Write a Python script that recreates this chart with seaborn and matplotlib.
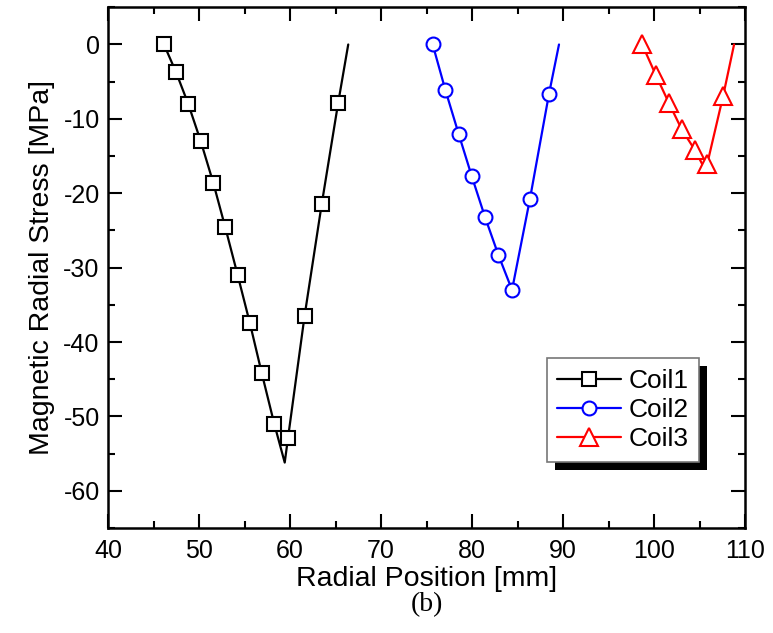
import numpy as np
import pandas as pd
import matplotlib
matplotlib.use("Agg")
import matplotlib.pyplot as plt
from matplotlib.patches import Rectangle
from matplotlib.ticker import MultipleLocator
import seaborn as sns

# ---- data ----
coil1_x = [46.15, 47.47, 48.82, 50.19, 51.57, 52.89, 54.25, 55.6, 56.9, 58.27, 59.42, 59.78, 61.6, 63.48, 65.3, 66.4]
coil1_y = [0.0, -3.7, -8.0, -13.0, -18.6, -24.6, -31.0, -37.5, -44.2, -51.0, -56.2, -52.9, -36.5, -21.5, -7.8, 0.0]
coil1_marks = [0, 1, 2, 3, 4, 5, 6, 7, 8, 9, 11, 12, 13, 14]

coil2_x = [75.68, 77.07, 78.54, 79.97, 81.43, 82.9, 84.4, 86.37, 88.46, 89.56]
coil2_y = [0.0, -6.1, -12.05, -17.7, -23.2, -28.3, -33.0, -20.75, -6.65, 0.0]
coil2_marks = [0, 1, 2, 3, 4, 5, 6, 7, 8]

coil3_x = [98.7, 100.18, 101.65, 103.04, 104.5, 105.71, 105.86, 107.6, 108.8]
coil3_y = [0.0, -4.05, -7.9, -11.4, -14.2, -17.05, -16.0, -6.9, 0.0]
coil3_marks = [0, 1, 2, 3, 4, 6, 7]

labels = ["Coil1", "Coil2", "Coil3"]
colors = ["black", "#0000ff", "#ff0000"]
markers = ["s", "o", "^"]
msizes = [9.5, 10, 13]

sns.set_theme(style="white")
plt.rcParams["font.family"] = ["Liberation Sans", "DejaVu Sans"]
plt.rcParams["axes.unicode_minus"] = False
plt.rcParams["text.color"] = "black"
plt.rcParams["axes.labelcolor"] = "black"
plt.rcParams["xtick.color"] = "black"
plt.rcParams["ytick.color"] = "black"

fig = plt.figure(figsize=(7.73, 6.33), dpi=100)
ax = fig.add_axes([108 / 773, 1 - 528 / 633, (745 - 108) / 773, (528 - 7.3) / 633])

series = [(coil1_x, coil1_y, coil1_marks), (coil2_x, coil2_y, coil2_marks), (coil3_x, coil3_y, coil3_marks)]
for (xs, ys, mk), lab, c, m, ms in zip(series, labels, colors, markers, msizes):
    df = pd.DataFrame({"x": xs, "y": ys})
    sns.lineplot(data=df, x="x", y="y", sort=False, estimator=None, ax=ax,
                 color=c, linewidth=1.6, marker=m, markersize=ms,
                 markerfacecolor="white", markeredgecolor=c, markeredgewidth=1.5,
                 markevery=mk, label=lab)

ax.set_xlim(40, 110)
ax.set_ylim(-65, 5)
ax.xaxis.set_major_locator(MultipleLocator(10))
ax.xaxis.set_minor_locator(MultipleLocator(5))
ax.yaxis.set_major_locator(MultipleLocator(10))
ax.yaxis.set_minor_locator(MultipleLocator(5))
ax.tick_params(which="both", direction="in", top=True, right=True, bottom=True, left=True,
               color="black", width=1.5)
ax.tick_params(which="major", length=10, labelsize=18, pad=8)
ax.tick_params(axis="y", which="major", pad=6)
ax.tick_params(which="minor", length=5)
for s in ax.spines.values():
    s.set_color("black")
    s.set_linewidth(1.8)

ax.set_xlabel("Radial Position [mm]", fontsize=20.5, labelpad=2, color="black")
ax.set_ylabel("Magnetic Radial Stress [MPa]", fontsize=20.5, labelpad=6, color="black")

leg = ax.legend(loc="lower right", bbox_to_anchor=(0.928, 0.127), fontsize=19,
                frameon=True, fancybox=False, shadow=False, handlelength=2.4,
                labelspacing=0.2, borderpad=0.4, handletextpad=0.3, borderaxespad=0)
leg.get_frame().set_edgecolor("#777777")
leg.get_frame().set_linewidth(1.2)
leg.get_frame().set_facecolor("white")
leg.get_frame().set_alpha(1)
leg.set_zorder(10)
for t in leg.get_texts():
    t.set_color("black")

fig.canvas.draw()
bb = leg.get_window_extent()
inv = fig.transFigure.inverted()
(x0, y0) = inv.transform((bb.x0 + 8, bb.y0 - 8))
(x1, y1) = inv.transform((bb.x1 + 8, bb.y1 - 8))
shadow = Rectangle((x0, y0), x1 - x0, y1 - y0, transform=fig.transFigure,
                   facecolor="black", edgecolor="none", zorder=9)
ax.add_artist(shadow)
shadow.set_clip_on(False)

fig.text(426.5 / 773, 1 - 605 / 633, "(b)", ha="center", va="center",
         fontsize=20, family=["Liberation Serif", "DejaVu Serif"])

fig.savefig("out.png", dpi=100, facecolor="white")
